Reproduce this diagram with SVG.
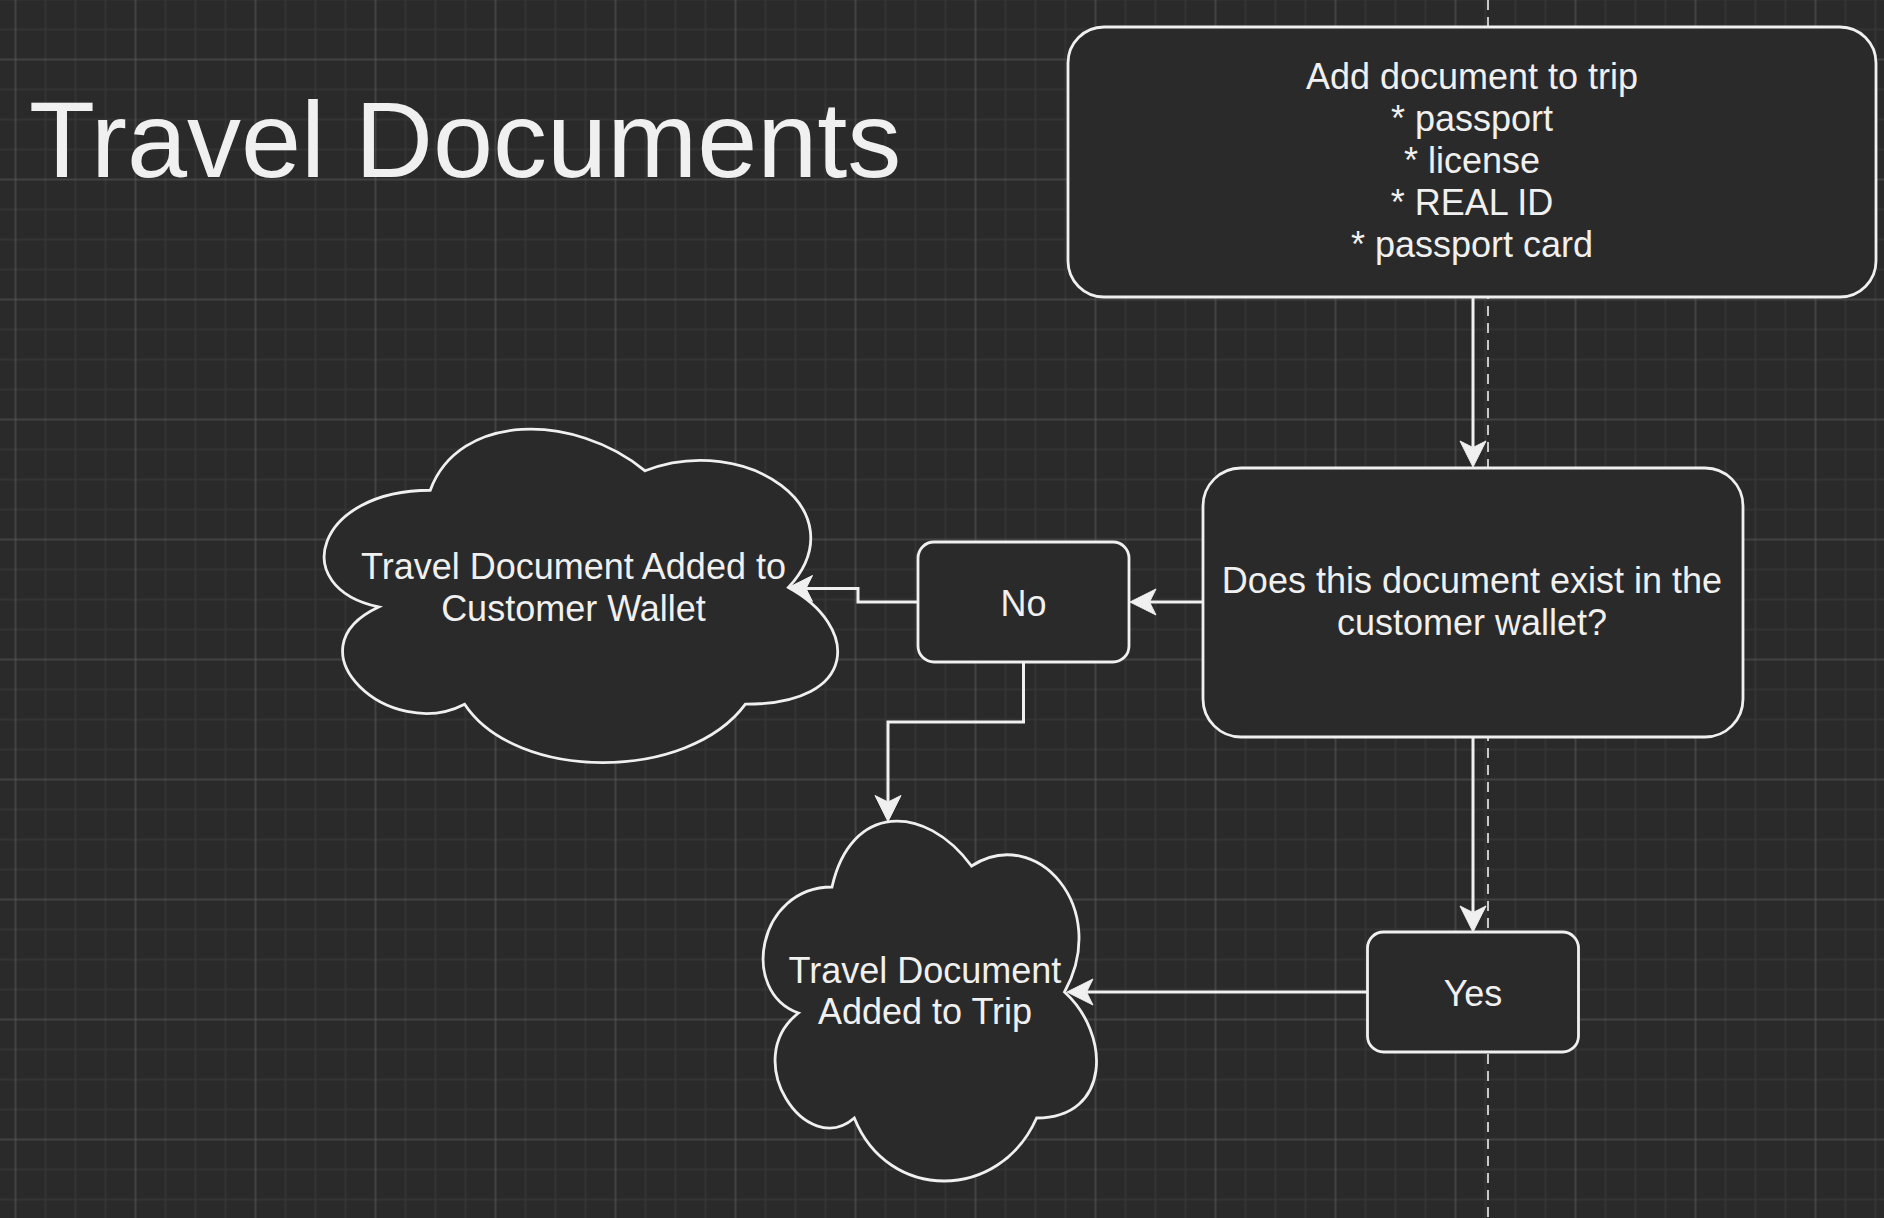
<svg xmlns="http://www.w3.org/2000/svg" width="1884" height="1218" viewBox="0 0 1884 1218">
<defs>
<style>
.node{fill:#2a2a2a;stroke:#f0f0f0;stroke-width:2.8}
.lbl{font-family:"Liberation Sans",Arial,Helvetica,sans-serif;font-size:36px;fill:#f0f0f0;text-anchor:middle}
.title{font-family:"Liberation Sans",Arial,Helvetica,sans-serif;font-size:108px;fill:#f0f0f0}
.edge{fill:none;stroke:#f0f0f0;stroke-width:3;marker-end:url(#arr)}
</style>
<pattern id="grid" width="120" height="120" patternUnits="userSpaceOnUse" x="0.5" y="44.5">
<path d="M45 0V120M75 0V120M105 0V120M0 45H120M0 75H120M0 105H120" stroke="#363636" stroke-width="1.5" fill="none"/>
<path d="M15 0V120M0 15H120" stroke="#5a5a5a" stroke-width="1" fill="none"/>
</pattern>
<marker id="arr" markerUnits="userSpaceOnUse" viewBox="-7 -14 28 28" markerWidth="28" markerHeight="28" refX="0" refY="0" orient="auto" overflow="visible">
<path d="M19.5 0L-6.5 -13L0 0L-6.5 13Z" fill="#f0f0f0" stroke="#f0f0f0" stroke-width="1"/>
</marker>
</defs>
<rect width="1884" height="1218" fill="#2a2a2a"/>
<rect width="1884" height="1218" fill="url(#grid)"/>
<line x1="1488" y1="0" x2="1488" y2="1218" stroke="#c8c8c8" stroke-width="2" stroke-dasharray="10 7"/>
<g id="title"><text class="title" x="29" y="177">Travel Documents</text></g>
<g id="connectors">
<path class="edge" d="M1473 297V447.5"/>
<path class="edge" d="M1203 602H1149.5"/>
<path class="edge" d="M918 602H858V588.5H806"/>
<path class="edge" d="M1023.5 662V722H888V802"/>
<path class="edge" d="M1473 737V912.5"/>
<path class="edge" d="M1368 992H1086.5"/>
</g>
<g id="node-add">
<rect class="node" x="1068" y="27" width="808" height="270" rx="36"/>
<text class="lbl" x="1472" y="89">Add document to trip</text>
<text class="lbl" x="1472" y="131">* passport</text>
<text class="lbl" x="1472" y="173">* license</text>
<text class="lbl" x="1472" y="215">* REAL ID</text>
<text class="lbl" x="1472" y="257">* passport card</text>
</g>
<g id="node-decision">
<rect class="node" x="1203" y="468" width="540" height="269" rx="38"/>
<text class="lbl" x="1472" y="593">Does this document exist in the</text>
<text class="lbl" x="1472" y="635">customer wallet?</text>
</g>
<g id="node-no">
<rect class="node" x="918" y="542" width="211" height="120" rx="16"/>
<text class="lbl" x="1023.5" y="616">No</text>
</g>
<g id="node-yes">
<rect class="node" x="1367.5" y="932" width="211" height="120" rx="16"/>
<text class="lbl" x="1473" y="1006">Yes</text>
</g>
<g id="node-wallet">
<path class="node" d="M430.25 490.25C315.65 490.25 287 587.5 378.68 606.95C287 649.74 390.14 743.1 464.63 704.2C516.2 782 688.1 782 745.4 704.2C860 704.2 860 626.4 788.4 587.5C860 509.7 745.4 431.9 645.1 470.8C573.5 412.45 458.9 412.45 430.25 490.25Z"/>
<text class="lbl" x="573.5" y="579">Travel Document Added to</text>
<text class="lbl" x="573.5" y="621">Customer Wallet</text>
</g>
<g id="node-trip">
<path class="node" d="M832 887C757.6 887 739 992 798.52 1013C739 1059.2 805.96 1160 854.32 1118C887.8 1202 999.4 1202 1036.6 1118C1111 1118 1111 1034 1064.5 992C1111 908 1036.6 824 971.5 866C925 803 850.6 803 832 887Z"/>
<text class="lbl" x="925" y="983">Travel Document</text>
<text class="lbl" x="925" y="1024">Added to Trip</text>
</g>
</svg>
